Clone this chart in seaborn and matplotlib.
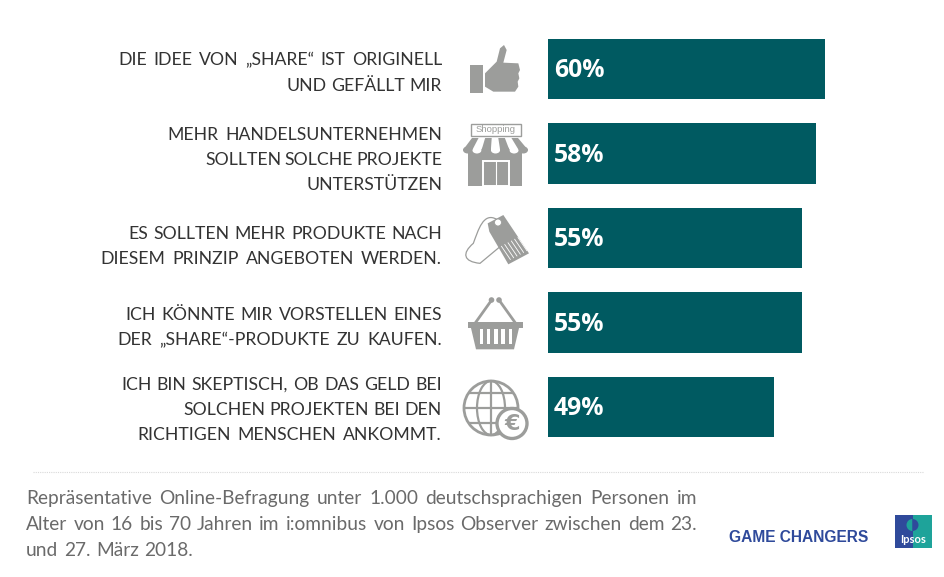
import numpy as np
import pandas as pd
import seaborn as sns
import matplotlib.pyplot as plt
from matplotlib.patches import Rectangle, Polygon, Circle, Ellipse, PathPatch, Wedge
from matplotlib.path import Path

# --- data ---
aussagen = [
    "DIE IDEE VON „SHARE“ IST ORIGINELL\nUND GEFÄLLT MIR",
    "MEHR HANDELSUNTERNEHMEN\nSOLLTEN SOLCHE PROJEKTE\nUNTERSTÜTZEN",
    "ES SOLLTEN MEHR PRODUKTE NACH\nDIESEM PRINZIP ANGEBOTEN WERDEN.",
    "ICH KÖNNTE MIR VORSTELLEN EINES\nDER „SHARE“-PRODUKTE ZU KAUFEN.",
    "ICH BIN SKEPTISCH, OB DAS GELD BEI\nSOLCHEN PROJEKTEN BEI DEN\nRICHTIGEN MENSCHEN ANKOMMT.",
]
werte = [60, 58, 55, 55, 49]
fussnote = [
    "Repräsentative Online-Befragung unter 1.000 deutschsprachigen Personen im",
    "Alter von 16 bis 70 Jahren im i:omnibus von Ipsos Observer zwischen dem 23.",
    "und 27. März 2018.",
]

# Layout der Beschriftung (Pixel): Zeilenanfang und Grundlinie je Aussage
label_links = [[118, 287], [167, 205, 308], [128, 100], [125, 117], [121, 183, 137]]
label_y = [[65, 91], [140, 165, 190], [239, 264], [320, 345], [390, 415, 440]]

TEAL = "#005a61"
GRAU = "#9c9d9b"
BLAU = "#2f4a9b"
IPSOS_TUERKIS = "#1ea39a"

sns.set_theme(style="white")
plt.rcParams['font.family'] = ['Lato', 'DejaVu Sans']

fig = plt.figure(figsize=(9.44, 5.77), dpi=100)

# Balken: Achse beginnt bei x=548px, 4.617 px pro Prozentpunkt, 84.5 px Zeilenabstand
ax = fig.add_axes([548 / 944, 0, 396 / 944, 1])
df = pd.DataFrame({"aussage": aussagen, "wert": werte})
sns.barplot(data=df, y="aussage", x="wert", color=TEAL, saturation=1, width=0.72,
            linewidth=0, ax=ax, orient="h")
ax.set_xlim(0, 396 / 4.617)
ax.set_ylim(508 / 84.5, -69 / 84.5)
ax.axis("off")

for i, w in enumerate(werte):
    ax.text(1.3, i + 0.02, f"{w}%", color="white", fontsize=17.8, fontweight="bold",
            family="Open Sans", va="center", ha="left")

# Overlay in Pixelkoordinaten fuer Texte und Icons
ov = fig.add_axes([0, 0, 1, 1], zorder=5)
ov.set_xlim(0, 944)
ov.set_ylim(577, 0)
ov.axis("off")
ov.patch.set_alpha(0)
renderer = fig.canvas.get_renderer()


def breite(text, **kw):
    t = ov.text(0, 0, text, **kw)
    b = t.get_window_extent(renderer).width
    t.remove()
    return b


def blocksatz(x0, x1, y, zeile, **kw):
    """Schreibt eine Zeile wortweise, sodass sie genau von x0 bis x1 reicht."""
    woerter = zeile.split(" ")
    if len(woerter) == 1:
        ov.text(x1, y, zeile, ha="right", va="baseline", **kw)
        return
    breiten = [breite(w, **kw) for w in woerter]
    luecke = (x1 - x0 - sum(breiten)) / (len(woerter) - 1)
    x = x0
    for w, b in zip(woerter, breiten):
        ov.text(x, y, w, ha="left", va="baseline", **kw)
        x += b + luecke


for i, txt in enumerate(aussagen):
    for zeile, x0, y in zip(txt.split("\n"), label_links[i], label_y[i]):
        blocksatz(x0, 442, y, zeile, fontsize=12.7, color="#333333")

ov.plot([33, 923], [471.5, 471.5], color="#d9d9d9", lw=0.8, ls=(0, (1, 1)))

for i, zeile in enumerate(fussnote):
    rechts = 697 if i < 2 else 193
    blocksatz(26, rechts, 504 + i * 26, zeile, fontsize=13.8, color="#6a6a6a")

ov.text(729, 537, "GAME CHANGERS", family="Liberation Sans", fontweight="bold",
        fontsize=11.2, color=BLAU, va="center", ha="left")


def z1(pts):
    # Punkte aus dem ersten Ausschnitt
    return [(450 + x / 3, 30 + y / 3) for x, y in pts]


def z2(pts):
    return [(450 + x / 3, 210 + y / 3) for x, y in pts]


# Daumen
ov.add_patch(Rectangle((470, 65), 13, 28, fc=GRAU, ec="none"))
ov.add_patch(Polygon(z1([(105, 130), (140, 95), (150, 55), (162, 45), (170, 60), (160, 98),
                         (205, 100), (210, 120), (205, 130), (208, 145), (203, 155), (205, 170),
                         (195, 185), (130, 185), (105, 170)]), fc=GRAU, ec="none"))

# Laden
ov.add_patch(Rectangle((471, 124), 50, 11.5, fc="white", ec=GRAU, lw=1))
ov.text(496, 130, "Shopping", ha="center", va="center", fontsize=6.8, color=GRAU, family="Liberation Sans")
ov.add_patch(Rectangle((468, 148), 53.5, 38, fc=GRAU, ec="none"))
oben = np.linspace(472, 518, 8)
unten = np.linspace(463, 528, 8)
for j in [1, 3, 5, 0, 2, 4, 6]:
    farbe = GRAU if j % 2 == 0 else "white"
    ov.add_patch(Polygon([(oben[j], 138), (oben[j + 1], 138), (unten[j + 1], 150), (unten[j], 150)],
                         fc=farbe, ec="none"))
    ov.add_patch(Ellipse(((unten[j] + unten[j + 1]) / 2, 150), unten[j + 1] - unten[j], 7, fc=farbe, ec="none"))
ov.add_patch(Rectangle((483, 161), 26, 25, fc=GRAU, ec="white", lw=1.4))
ov.plot([496, 496], [161, 186], color="white", lw=0.8)

# Preisschild
ov.add_patch(Polygon(z2([(113, 40), (160, 15), (237, 130), (175, 163), (118, 65)]), fc=GRAU, ec="none"))
ov.add_patch(Circle((498, 222.5), 3.5, fc="white", ec=GRAU, lw=0.6))
for t in np.linspace(0.1, 0.9, 6):
    sx, sy = 148 + t * 62, 112 - t * 33
    ov.plot(*zip(*z2([(sx, sy), (sx + 27, sy + 40)])), color="white", lw=0.6)
schnur = Path(z2([(140, 28), (100, 5), (85, 60), (70, 100), (35, 130), (40, 155), (90, 160), (150, 110)]),
              [Path.MOVETO, Path.CURVE4, Path.CURVE4, Path.CURVE4, Path.CURVE4, Path.CURVE4, Path.CURVE4, Path.LINETO])
ov.add_patch(PathPatch(schnur, fc="none", ec=GRAU, lw=0.9))

# Korb
ov.plot(*zip(*z2([(125, 270), (75, 340)])), color=GRAU, lw=2)
ov.plot(*zip(*z2([(147, 270), (197, 340)])), color=GRAU, lw=2)
ov.add_patch(Circle((491.5, 300), 2.8, fc=GRAU, ec="none"))
ov.add_patch(Circle((499, 300), 2.8, fc=GRAU, ec="none"))
ov.add_patch(Rectangle((468, 322), 55, 5.5, fc=GRAU, ec="none"))
ov.add_patch(Polygon(z2([(62, 350), (208, 350), (192, 418), (78, 418)]), fc=GRAU, ec="none"))
for j in range(5):
    ov.add_patch(Rectangle((479.5 + j * 7.3, 329), 3.6, 14.5, fc="white", ec="none"))

# Globus mit Euro
gx, gy, gr = 491, 408, 27
ov.add_patch(Circle((gx, gy), gr, fc="none", ec=GRAU, lw=2))
ov.add_patch(Ellipse((gx, gy), 28, 2 * gr, fc="none", ec=GRAU, lw=1.6))
ov.plot([gx, gx], [gy - gr, gy + gr], color=GRAU, lw=1.6)
ov.plot([gx - gr, gx + gr], [gy, gy], color=GRAU, lw=1.6)
ov.plot([gx - 22, gx + 22], [gy - 15, gy - 15], color=GRAU, lw=1.6)
ov.plot([gx - 22, gx + 22], [gy + 15, gy + 15], color=GRAU, lw=1.6)
ov.add_patch(Circle((512, 423.5), 15, fc="white", ec=GRAU, lw=2.4, zorder=3))
ov.text(512, 423.5, "€", ha="center", va="center", fontsize=16, fontweight="bold",
        color=GRAU, family="DejaVu Sans", zorder=4)

# Ipsos Logo
ov.add_patch(Rectangle((895, 515), 18, 33, fc=BLAU, ec="none"))
ov.add_patch(Rectangle((913, 515), 19, 33, fc=IPSOS_TUERKIS, ec="none"))
ov.add_patch(Wedge((912.5, 525), 6, 90, 270, fc=IPSOS_TUERKIS, ec="none"))
ov.add_patch(Wedge((912.5, 525), 6, -90, 90, fc=BLAU, ec="none"))
ov.text(913.5, 539.5, "Ipsos", color="white", fontsize=8, fontweight="bold", ha="center", va="center",
        family="Lato")

fig.savefig("out.png", dpi=100)
